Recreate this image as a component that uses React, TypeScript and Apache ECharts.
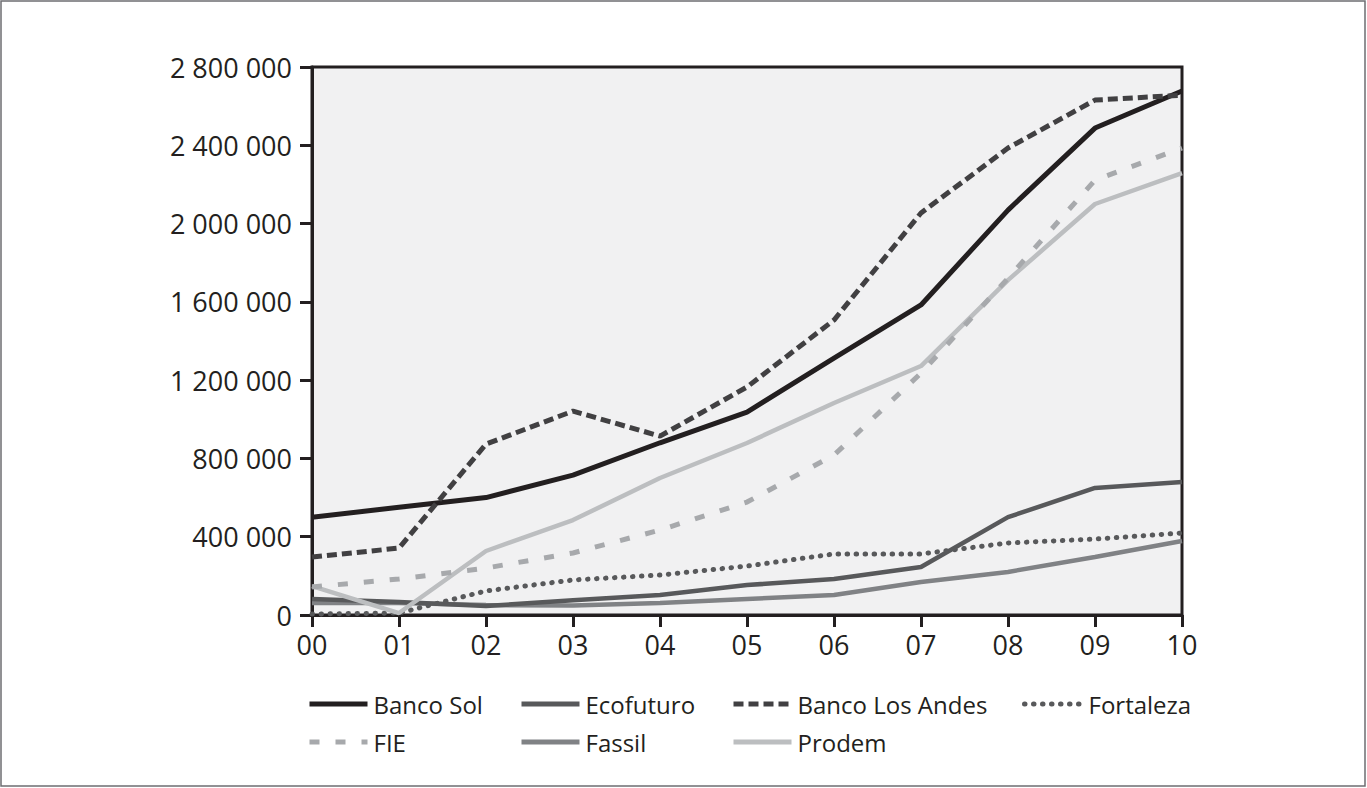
import React, { useEffect, useRef } from "react";
import * as echarts from "echarts";

const years = ["00", "01", "02", "03", "04", "05", "06", "07", "08", "09", "10"];
const bancoSol = [500000, 550000, 600000, 715000, 880000, 1037000, 1313000, 1584000, 2069000, 2488000, 2677000];
const ecofuturo = [82000, 66000, 46000, 75000, 102000, 153000, 184000, 245000, 500000, 649000, 680000];
const bancoLosAndes = [296000, 342000, 873000, 1042000, 914000, 1165000, 1507000, 2054000, 2386000, 2631000, 2656000];
const fortaleza = [5000, 10000, 123000, 179000, 204000, 250000, 312000, 312000, 368000, 388000, 419000];
const fie = [143000, 184000, 240000, 317000, 434000, 577000, 817000, 1236000, 1721000, 2222000, 2386000];
const fassil = [61000, 61000, 51000, 48000, 61000, 82000, 102000, 169000, 220000, 296000, 378000];
const prodem = [148000, 10000, 327000, 485000, 700000, 879000, 1083000, 1272000, 1711000, 2100000, 2258000];
const yTicks = [0, 400000, 800000, 1200000, 1600000, 2000000, 2400000, 2800000];

const FONT = "'Open Sans', 'Noto Sans', sans-serif";

function fmt(v: number): string {
  return String(v).replace(/\B(?=(\d{3})+(?!\d))/g, " ");
}

export default function App() {
  const ref = useRef<HTMLDivElement>(null);
  useEffect(() => {
    if (!ref.current) return;
    const chart = echarts.init(ref.current, null, { renderer: "svg" });
    const mk = (name: string, data: number[], color: string, width: number, type: any, cap = "butt") => ({
      name,
      type: "line",
      data,
      symbol: "none",
      showSymbol: false,
      lineStyle: { color, width, type, cap },
      itemStyle: { color },
    });
    const legendBase = {
      orient: "vertical",
      itemWidth: 58,
      itemHeight: 14,
      itemGap: 12,
      itemStyle: { opacity: 0 },
      lineStyle: { width: 5 },
      textStyle: { fontFamily: FONT, fontSize: 24, lineHeight: 26, color: "#231f20", padding: [0, 0, 0, 1] },
      padding: 0,
    };
    chart.setOption({
      animation: false,
      backgroundColor: "#ffffff",
      grid: {
        left: 312,
        top: 67,
        right: 185,
        bottom: 173,
        show: true,
        backgroundColor: "#f1f1f2",
        borderColor: "#231f20",
        borderWidth: 3,
      },
      xAxis: {
        type: "category",
        data: years,
        boundaryGap: false,
        axisLine: { lineStyle: { color: "#231f20", width: 3 } },
        axisTick: { length: 12, lineStyle: { color: "#231f20", width: 3 } },
        axisLabel: { fontFamily: FONT, fontSize: 27, color: "#231f20", margin: 16 },
        splitLine: { show: false },
      },
      yAxis: {
        type: "value",
        min: 0,
        max: 2800000,
        interval: 400000,
        axisLine: { show: true, lineStyle: { color: "#231f20", width: 3 } },
        axisTick: { show: true, length: 12, lineStyle: { color: "#231f20", width: 3 } },
        axisLabel: {
          fontFamily: FONT,
          fontSize: 27,
          color: "#231f20",
          margin: 20,
          formatter: (v: number) => (yTicks.includes(v) ? fmt(v) : ""),
        },
        splitLine: { show: false },
      },
      legend: [
        { ...legendBase, left: 307, top: 691, data: ["Banco Sol", "FIE"] },
        { ...legendBase, left: 519, top: 691, data: ["Ecofuturo", "Fassil"] },
        { ...legendBase, left: 731, top: 691, data: ["Banco Los Andes", "Prodem"] },
        { ...legendBase, left: 1022, top: 691, data: ["Fortaleza"] },
      ],
      series: [
        mk("Fassil", fassil, "#808285", 4.5, "solid"),
        mk("Ecofuturo", ecofuturo, "#58595b", 4.5, "solid"),
        mk("Fortaleza", fortaleza, "#58595b", 5, [0.5, 8.5], "round"),
        mk("Prodem", prodem, "#bcbec0", 4.5, "solid"),
        mk("FIE", fie, "#a7a9ac", 5, [10, 16]),
        mk("Banco Sol", bancoSol, "#231f20", 5, "solid"),
        mk("Banco Los Andes", bancoLosAndes, "#414042", 5, [10, 5]),
      ],
      graphic: [
        {
          type: "rect",
          shape: { x: 1, y: 1, width: 1364, height: 785 },
          style: { fill: "none", stroke: "#6d6e71", lineWidth: 1.5 },
          silent: true,
        },
      ],
    });
    return () => chart.dispose();
  }, []);
  return (
    <div
      ref={ref}
      style={{ position: "fixed", left: 0, top: 0, width: 1367, height: 788 }}
    />
  );
}
